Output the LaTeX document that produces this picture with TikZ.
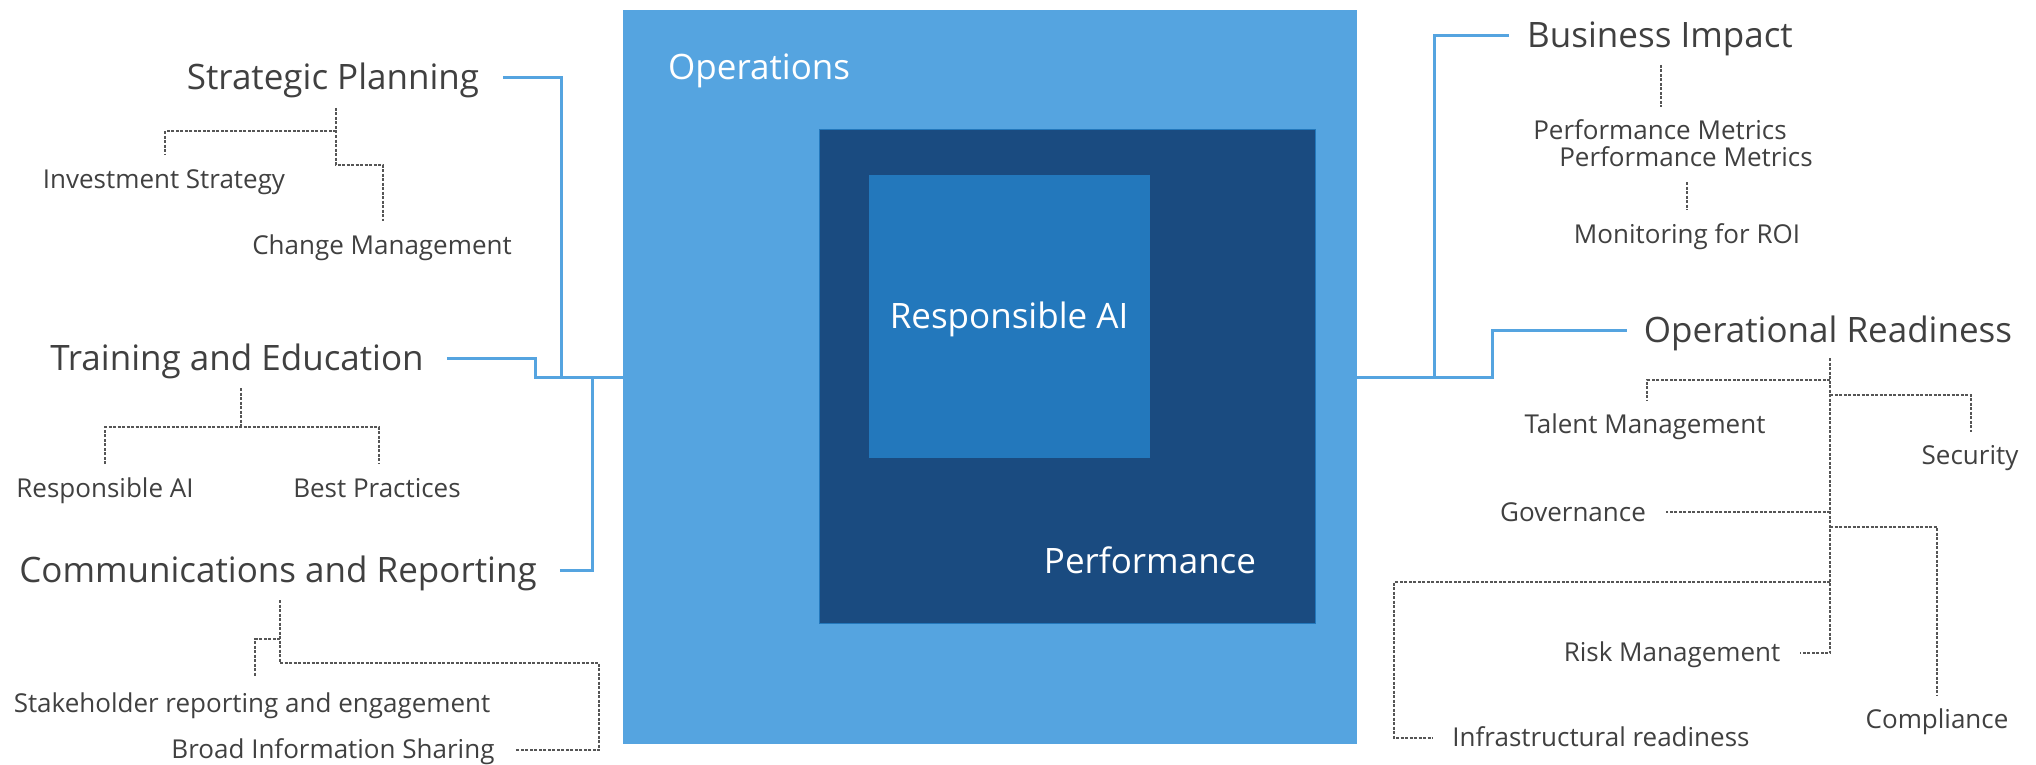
\documentclass[tikz,border=0pt]{standalone}
\usepackage{fontspec}
\setmainfont{Open Sans}
\definecolor{opsblue}{HTML}{55A4E0}
\definecolor{perfblue}{HTML}{1A4B80}
\definecolor{raiblue}{HTML}{2378BC}
\definecolor{txt}{HTML}{404040}
\definecolor{dashc}{HTML}{555555}
\tikzset{
  big/.style={font=\fontsize{35}{40}\selectfont, text=txt, inner sep=0pt, text height=24pt, text depth=0pt},
  small/.style={font=\fontsize{26}{30}\selectfont, text=txt, inner sep=0pt, text height=19.5pt, text depth=0pt},
  boxlbl/.style={font=\fontsize{35}{40}\selectfont, text=white, inner sep=0pt, text height=24pt, text depth=0pt},
  bl/.style={draw=opsblue, line width=3pt},
  dl/.style={draw=dashc, line width=1.2pt, dash pattern=on 3pt off 1.5pt}
}
\begin{document}
\begin{tikzpicture}[x=1pt,y=-1pt]
\useasboundingbox (0,0) rectangle (2036,765);
% boxes
\node[fill=opsblue, minimum width=734pt, minimum height=734pt, inner sep=0pt, anchor=north west] (ops) at (623,10) {};
\node[fill=perfblue, draw=raiblue, line width=1pt, minimum width=496pt, minimum height=494pt, inner sep=0pt, anchor=north west] (perfbox) at (819,129) {};
\node[fill=raiblue, minimum width=281pt, minimum height=283pt, inner sep=0pt, anchor=north west] (raibox) at (869,175) {};
\node[boxlbl, anchor=west] (opslbl) at (668,68) {Operations};
\node[boxlbl] (railbl) at (1009,316) {Responsible AI};
\node[boxlbl] (perflbl) at (1150,561) {Performance};

% left labels
\node[big] (sp) at (333,78) {Strategic Planning};
\node[small] (is) at (164,179) {Investment Strategy};
\node[small] (cm) at (382,245) {Change Management};
\node[big] (te) at (237,358) {Training and Education};
\node[small] (ra) at (105,488) {Responsible AI};
\node[small] (bp) at (377,488) {Best Practices};
\node[big] (cr) at (278,570) {Communications and Reporting};
\node[small] (sh) at (252,703) {Stakeholder reporting and engagement};
\node[small] (bis) at (333,749) {Broad Information Sharing};

% right labels
\node[big] (bi) at (1660,36) {Business Impact};
\node[small] (pm1) at (1660,130) {Performance Metrics};
\node[small] (pm2) at (1686,157) {Performance Metrics};
\node[small] (roi) at (1687,234) {Monitoring for ROI};
\node[big] (or) at (1828,330) {Operational Readiness};
\node[small] (tm) at (1645,424) {Talent Management};
\node[small] (sec) at (1970,455) {Security};
\node[small] (gov) at (1573,512) {Governance};
\node[small] (comp) at (1937,719) {Compliance};
\node[small] (infra) at (1601,737) {Infrastructural readiness};
\node[small] (rm) at (1672,652) {Risk Management};

% blue connectors
\draw[bl] ([xshift=24pt]sp.east) -| ([xshift=-62pt]ops.west);
\draw[bl] ([xshift=23pt]te.east) -| ([xshift=-88pt]ops.west) -- (ops.west);
\draw[bl] ([xshift=23pt]cr.east) -| ([xshift=-31pt]ops.west);
\draw[bl] ([xshift=-18pt]bi.west) -| ([xshift=77pt]ops.east);
\draw[bl] ([xshift=-17pt]or.west) -| ([xshift=135pt]ops.east) -- (ops.east);

% dashed coordinates
\coordinate (spA) at (336,108);
\coordinate (isA) at (165,154);
\coordinate (cmA) at (383,221);
\coordinate (teA) at (241,388);
\coordinate (raA) at (105,464);
\coordinate (bpA) at (379,464);
\coordinate (crA) at (280,600);
\coordinate (crC) at (599,663);
\coordinate (shA) at (255,677);
\coordinate (bisC) at (599,750);
\coordinate (bisA) at (515,750);
\coordinate (biA) at (1661,65);
\coordinate (pm1A) at (1661,107);
\coordinate (pm2A) at (1687,182);
\coordinate (roiA) at (1687,210);
\coordinate (orA) at (1830,358);
\coordinate (orB) at (1830,653);
\coordinate (rmA) at (1800,653);
\coordinate (tmA) at (1647,400);
\coordinate (secA) at (1971,432);
\coordinate (govA) at (1666,512);
\coordinate (compA) at (1937,695);
\coordinate (infC) at (1394,738);
\coordinate (infA) at (1433,738);

% dashed connectors
\draw[dl] (spA) -- ++(0,57) -| (cmA);
\draw[dl] (spA) ++(0,23) -| (isA);
\draw[dl] (teA) -- ++(0,39) coordinate (teJ);
\draw[dl] (raA) |- (teJ) -| (bpA);
\draw[dl] (crA) |- (crC) -- (bisC) -- (bisA);
\draw[dl] (crA) ++(0,39) -| (shA);
\draw[dl] (biA) -- (pm1A);
\draw[dl] (pm2A) -- (roiA);
\draw[dl] (orA) -- (orB) -- (rmA);
\draw[dl] (orA) ++(0,22) -| (tmA);
\draw[dl] (orA) ++(0,37) -| (secA);
\draw[dl] (orA) ++(0,154) -- (govA);
\draw[dl] (orA) ++(0,169) -| (compA);
\draw[dl] (orA) ++(0,224) -| (infC) -- (infA);
\end{tikzpicture}
\end{document}
